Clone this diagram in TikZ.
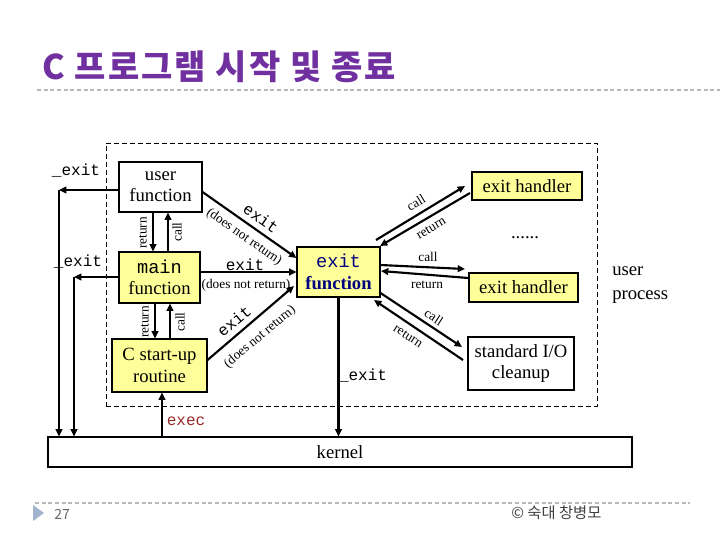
\documentclass[tikz,border=0pt]{standalone}
\usepackage{fontspec}
\setmainfont{Liberation Serif}
\newfontfamily\monof{Liberation Mono}
\newfontfamily\kr{Noto Sans CJK KR}
\usetikzlibrary{arrows.meta}
\definecolor{ttl}{RGB}{112,48,160}
\definecolor{boxy}{RGB}{255,255,153}
\definecolor{navy}{RGB}{0,0,128}
\definecolor{execred}{RGB}{150,40,40}
\definecolor{dashg}{RGB}{185,185,185}
\definecolor{tri}{RGB}{160,180,205}
\begin{document}
\begin{tikzpicture}[x=0.75pt,y=-0.75pt,
  box/.style={draw=black, line width=0.8pt, inner sep=0pt, align=center, font=\fontsize{14}{16}\selectfont},
  ybox/.style={box, fill=boxy},
  arr/.style={line width=1.6pt, -{Triangle[length=5.5pt,width=5pt]}},
  lbl/.style={font=\fontsize{10}{12}\selectfont, inner sep=0pt},
  mlbl/.style={font=\monof\fontsize{12}{14}\selectfont, inner sep=0pt},
  txt/.style={font=\fontsize{14}{18}\selectfont, inner sep=0pt},
  sep/.style={draw=dashg, line width=0.8pt, dash pattern=on 3pt off 2pt},
]
\useasboundingbox (0,0) rectangle (720,540);
% title and separators
\node[anchor=west, text=ttl, font=\kr\bfseries\fontsize{25.5}{30}\selectfont\addfontfeature{LetterSpace=6}, inner sep=0pt] (title) at (42,67) {C 프로그램 시작 및 종료};
\draw[sep] (37,90) -- (720,90);
\draw[sep] (35,503) -- (690,503);
\fill[tri] (33,505) -- (44,513) -- (33,521) -- cycle;
\node[anchor=west, font=\kr\fontsize{10.5}{12}\selectfont, text=black!60, inner sep=0pt] (pg) at (54,514) {27};
\node[anchor=west, font=\kr\fontsize{11.5}{13}\selectfont, text=black!75, inner sep=0pt] (copy) at (511,513) {© 숙대 창병모};

% process box
\node[draw, line width=0.6pt, dash pattern=on 3.75pt off 2.25pt, minimum width=368.25pt, minimum height=197.25pt, inner sep=0pt] (proc) at (351.5,274.5) {};
\node[txt, align=left, anchor=west] (up) at (612,285) {user\\process};

% boxes
\node[box, fill=white, minimum width=62.25pt, minimum height=37.5pt] (uf) at (160.5,187) {user\\function};
\node[ybox, minimum width=60.75pt, minimum height=38.25pt] (mf) at (159.5,277.5) {{\monof main}\\function};
\node[ybox, minimum width=71.25pt, minimum height=39.75pt] (cs) at (159.5,365.5) {C start-up\\routine};
\node[ybox, minimum width=62.25pt, minimum height=37.5pt, text=navy] (ef) at (338.5,272) {{\monof exit}\\\textbf{function}};
\node[ybox, minimum width=82.5pt, minimum height=21pt] (eh1) at (527,186) {exit handler};
\node[ybox, minimum width=81.75pt, minimum height=21.75pt] (eh2) at (523.5,287.5) {exit handler};
\node[box, fill=white, minimum width=79.5pt, minimum height=39.75pt] (sio) at (521,363.5) {standard I/O\\cleanup};
\node[box, fill=white, minimum width=438pt, minimum height=22.5pt] (kernel) at (340,452) {kernel};
\node[txt] (dots) at (525,238) {......};

% _exit to kernel
\coordinate (k1) at (59,190);
\coordinate (k2) at (74,277);
\draw[arr] (uf.west |- k1) -- (k1);
\draw[arr] (k1) -- (k1 |- kernel.north);
\draw[arr] (mf.west |- k2) -- (k2);
\draw[arr] (k2) -- (k2 |- kernel.north);
\node[mlbl] (ex1) at (76,171) {\_exit};
\node[mlbl] (ex2) at (78,262) {\_exit};

% call / return vertical
\coordinate (r1) at (153,0); \coordinate (c1) at (168,0);
\coordinate (r2) at (155,0); \coordinate (c2) at (170,0);
\draw[arr] (uf.south -| r1) -- (mf.north -| r1);
\draw[arr] (mf.north -| c1) -- (uf.south -| c1);
\draw[arr] (mf.south -| r2) -- (cs.north -| r2);
\draw[arr] (cs.north -| c2) -- (mf.south -| c2);
\node[lbl, rotate=90] (lr1) at (143,233) {return};
\node[lbl, rotate=90] (lc1) at (177,232) {call};
\node[lbl, rotate=90] (lr2) at (145,322) {return};
\node[lbl, rotate=90] (lc2) at (180,322) {call};

% exec
\coordinate (xc) at (162,0);
\draw[arr] (kernel.north -| xc) -- (cs.south -| xc);
\node[mlbl, text=execred] (lexec) at (186,421) {exec};

% exit arrows
\coordinate (t3) at (294,286);
\draw[arr] (uf.east |- 0,192) -- (ef.west |- 0,258);
\draw[arr] (mf.east |- 0,272) -- (ef.west |- 0,272);
\draw[arr] (cs.east |- 0,360) -- (t3);
\draw[arr] (ef.south) -- (ef.south |- kernel.north);
\node[mlbl] (lx0) at (363,376) {\_exit};
\node[mlbl, rotate=-35] (lx1) at (261,218) {exit};
\node[lbl, rotate=-35] (ln1) at (244,237) {(does not return)};
\node[mlbl] (lx2) at (245,265) {exit};
\node[lbl] (ln2) at (246,285) {(does not return)};
\node[mlbl, rotate=40] (lx3) at (234,321) {exit};
\node[lbl, rotate=40] (ln3) at (260,337) {(does not return)};

% exit handlers
\coordinate (h1s) at (376,240); \coordinate (h1t) at (465,186);
\coordinate (h1r) at (470,193); \coordinate (h1e) at (380,246);
\draw[arr] (h1s) -- (h1t);
\draw[arr] (h1r) -- (h1e);
\node[lbl, rotate=31] (lc3) at (416,203) {call};
\node[lbl, rotate=31] (lr3) at (431,228) {return};

\coordinate (h2t) at (465,269); \coordinate (h2e) at (381,271);
\draw[arr] (ef.east |- 0,265) -- (h2t);
\draw[arr] (eh2.west |- 0,278) -- (h2e);
\node[lbl] (lc4) at (428,257) {call};
\node[lbl] (lr4) at (427,285) {return};

\coordinate (h3t) at (462,347); \coordinate (h3r) at (463,360); \coordinate (h3e) at (374,300);
\draw[arr] (ef.east |- 0,293) -- (h3t);
\draw[arr] (h3r) -- (h3e);
\node[lbl, rotate=-33] (lc5) at (434,317) {call};
\node[lbl, rotate=-33] (lr5) at (408,336) {return};
\end{tikzpicture}
\end{document}
